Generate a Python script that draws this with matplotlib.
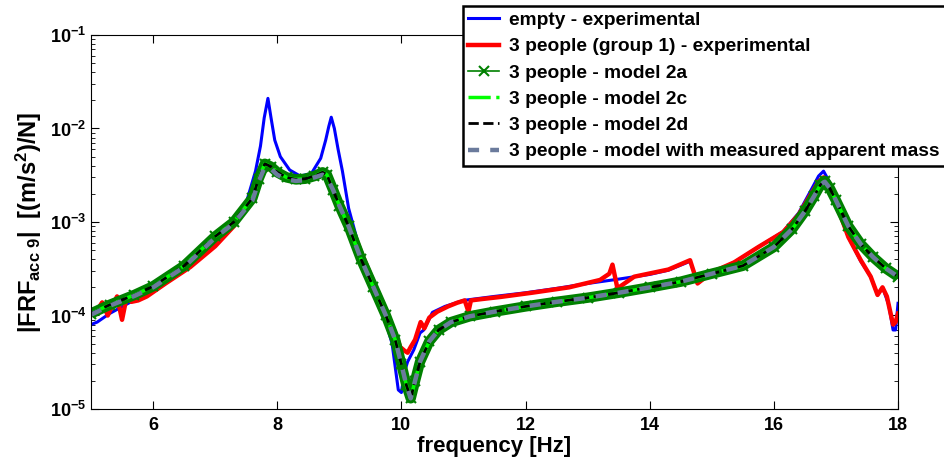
import matplotlib as mpl
mpl.use('Agg')
from matplotlib import pyplot as plt
from matplotlib.ticker import LogLocator, NullFormatter, FixedLocator

plt.rcParams['font.family'] = 'Liberation Sans'
plt.rcParams['font.weight'] = 'bold'
plt.rcParams['mathtext.fontset'] = 'custom'
plt.rcParams['mathtext.rm'] = 'Liberation Sans:bold'
plt.rcParams['mathtext.it'] = 'Liberation Sans:bold'
plt.rcParams['mathtext.bf'] = 'Liberation Sans:bold'
plt.rcParams['mathtext.default'] = 'rm'

# empty footbridge - experimental
empty_f = [5.0, 5.1, 5.3, 5.6, 6.0, 6.5, 7.0, 7.3, 7.5, 7.65, 7.73, 7.79, 7.85, 7.9, 7.96,
           8.05, 8.2, 8.37, 8.55, 8.7, 8.78, 8.83, 8.87, 8.92, 8.98, 9.05, 9.15, 9.3, 9.5,
           9.7, 9.85, 9.95, 10.0, 10.05, 10.1, 10.2, 10.3, 10.36, 10.5, 10.7, 11.0, 11.5,
           12.0, 12.5, 13.0, 13.5, 14.0, 14.3, 14.65, 14.77, 15.0, 15.36, 15.75, 16.15, 16.4,
           16.6, 16.72, 16.8, 16.88, 17.0, 17.2, 17.4, 17.56, 17.67, 17.75, 17.85, 17.92,
           17.96, 18.0]
empty_frf = [8.0e-5, 8.5e-5, 1.05e-4, 1.35e-4, 1.85e-4, 3.0e-4, 5.8e-4, 9.5e-4, 1.6e-3,
             3.5e-3, 6.5e-3, 1.3e-2, 2.1e-2, 1.3e-2, 7.5e-3, 5.0e-3, 3.6e-3, 3.1e-3, 3.3e-3,
             4.8e-3, 7.5e-3, 1.05e-2, 1.32e-2, 1.0e-2, 6.0e-3, 3.5e-3, 1.4e-3, 6.0e-4, 2.4e-4,
             1.1e-4, 5.0e-5, 1.6e-5, 1.5e-5, 2.5e-5, 3.2e-5, 4.3e-5, 6.5e-5, 7.0e-5, 1.08e-4,
             1.25e-4, 1.45e-4, 1.6e-4, 1.75e-4, 1.95e-4, 2.2e-4, 2.45e-4, 2.75e-4, 3.05e-4,
             3.8e-4, 2.3e-4, 2.9e-4, 3.7e-4, 5.4e-4, 7.9e-4, 1.25e-3, 2.2e-3, 3.1e-3, 3.5e-3,
             2.8e-3, 1.6e-3, 6.9e-4, 3.8e-4, 2.6e-4, 1.66e-4, 2.0e-4, 1.3e-4, 7.0e-5, 7.0e-5,
             1.35e-4]

# 3 people (group 1) - experimental
group_f = [5.0, 5.05, 5.12, 5.18, 5.27, 5.35, 5.42, 5.5, 5.58, 5.65, 5.76, 5.9, 6.2, 6.6,
           7.0, 7.3, 7.5, 7.65, 7.75, 7.82, 7.9, 8.0, 8.15, 8.3, 8.45, 8.6, 8.72, 8.8, 8.9,
           9.0, 9.15, 9.35, 9.55, 9.75, 9.9, 9.98, 10.05, 10.1, 10.15, 10.22, 10.31, 10.37,
           10.45, 10.58, 10.75, 10.9, 11.02, 11.08, 11.12, 11.3, 11.6, 12.1, 12.7, 13.2,
           13.35, 13.4, 13.48, 13.75, 14.3, 14.65, 14.77, 15.0, 15.36, 15.75, 16.15, 16.4,
           16.6, 16.72, 16.8, 16.9, 17.0, 17.2, 17.4, 17.56, 17.67, 17.75, 17.82, 17.92,
           17.96, 18.0]
group_frf = [1.15e-4, 1.0e-4, 1.2e-4, 1.38e-4, 1.0e-4, 1.3e-4, 1.6e-4, 9.0e-5, 1.65e-4,
             1.4e-4, 1.45e-4, 1.6e-4, 2.2e-4, 3.3e-4, 5.5e-4, 9.0e-4, 1.45e-3, 2.5e-3, 3.5e-3,
             3.8e-3, 3.6e-3, 3.2e-3, 2.9e-3, 2.75e-3, 2.8e-3, 3.0e-3, 3.2e-3, 3.1e-3, 2.4e-3,
             1.7e-3, 1.05e-3, 4.8e-4, 2.3e-4, 1.15e-4, 6.5e-5, 4.6e-5, 4.2e-5, 4.0e-5, 4.6e-5,
             5.5e-5, 8.5e-5, 7.3e-5, 9.5e-5, 1.1e-4, 1.25e-4, 1.37e-4, 1.45e-4, 1.1e-4, 1.45e-4,
             1.5e-4, 1.58e-4, 1.75e-4, 2.0e-4, 2.4e-4, 2.8e-4, 3.5e-4, 1.95e-4, 2.6e-4, 3.1e-4,
             3.9e-4, 2.2e-4, 2.9e-4, 3.7e-4, 5.4e-4, 7.8e-4, 1.2e-3, 2.0e-3, 2.7e-3, 3.0e-3,
             2.5e-3, 1.6e-3, 6.9e-4, 3.9e-4, 2.6e-4, 1.66e-4, 2.0e-4, 1.6e-4, 8.0e-5, 8.5e-5,
             1.05e-4]

# models
model_f = [5.0, 5.3, 5.7, 6.0, 6.5, 7.0, 7.3, 7.6, 7.7, 7.8, 7.9, 8.0, 8.15, 8.3, 8.45,
           8.6, 8.73, 8.8, 8.9, 9.0, 9.15, 9.35, 9.55, 9.75, 9.9, 10.0, 10.08, 10.15, 10.22,
           10.3, 10.45, 10.6, 10.8, 11.1, 11.5, 12.0, 12.5, 13.0, 13.5, 14.0, 14.5, 15.0,
           15.5, 16.0, 16.3, 16.5, 16.65, 16.75, 16.82, 16.9, 17.0, 17.2, 17.4, 17.6, 17.8, 18.0]
model_2a = [1.05e-4, 1.3e-4, 1.66e-4, 2.05e-4, 3.4e-4, 7.0e-4, 1.0e-3, 1.8e-3, 2.9e-3,
            4.2e-3, 3.9e-3, 3.4e-3, 3.0e-3, 2.85e-3, 2.9e-3, 3.1e-3, 3.4e-3, 3.2e-3, 2.2e-3,
            1.5e-3, 9.0e-4, 4.0e-4, 2.0e-4, 1.0e-4, 5.5e-5, 3.0e-5, 1.8e-5, 1.3e-5, 2.0e-5,
            3.2e-5, 5.3e-5, 7.0e-5, 8.5e-5, 9.8e-5, 1.1e-4, 1.25e-4, 1.4e-4, 1.55e-4, 1.75e-4,
            2.0e-4, 2.3e-4, 2.8e-4, 3.4e-4, 5.4e-4, 8.5e-4, 1.3e-3, 1.9e-3, 2.5e-3, 2.75e-3,
            2.3e-3, 1.7e-3, 9.0e-4, 5.8e-4, 4.2e-4, 3.2e-4, 2.6e-4]
model_2c = model_2a
model_2d = model_2a
model_app = [1.02e-4, 1.27e-4, 1.62e-4, 2.0e-4, 3.3e-4, 6.8e-4, 9.7e-4, 1.7e-3, 2.7e-3,
             3.9e-3, 3.7e-3, 3.2e-3, 2.85e-3, 2.75e-3, 2.8e-3, 3.0e-3, 3.2e-3, 3.0e-3, 2.2e-3,
             1.5e-3, 9.0e-4, 4.0e-4, 2.0e-4, 1.0e-4, 5.5e-5, 3.0e-5, 1.8e-5, 1.3e-5, 2.0e-5,
             3.2e-5, 5.3e-5, 7.0e-5, 8.5e-5, 9.8e-5, 1.1e-4, 1.25e-4, 1.4e-4, 1.55e-4, 1.75e-4,
             2.0e-4, 2.3e-4, 2.8e-4, 3.4e-4, 5.4e-4, 8.5e-4, 1.3e-3, 1.9e-3, 2.5e-3, 2.7e-3,
             2.3e-3, 1.7e-3, 9.0e-4, 5.8e-4, 4.2e-4, 3.2e-4, 2.6e-4]

fig = plt.figure(figsize=(9.45, 4.61), dpi=100)
ax = fig.add_axes([0.0963, 0.1128, 0.8540, 0.8113])

ax.semilogy(empty_f, empty_frf, color='#0000ff', lw=2.2, label='empty - experimental')
ax.semilogy(group_f, group_frf, color='#ff0000', lw=3.2, label='3 people (group 1) - experimental')
# dense x markers in the original make a thick green band
ax.semilogy(model_f, model_2a, color='#008000', lw=7.5, solid_capstyle='butt')
ax.semilogy(model_f, model_2a, color='#008000', lw=1.2, marker='x', ms=7, mew=1.5,
            label='3 people - model 2a')
ax.semilogy(model_f, model_2c, color='#00ff00', lw=2.5, ls='-.', label='3 people - model 2c')
ax.semilogy(model_f, model_2d, color='black', lw=2, ls='--', label='3 people - model 2d')
ax.semilogy(model_f, model_app, color='#6b7b9c', lw=3.2, ls=(0, (2.5, 2.5)),
            label='3 people - model with measured apparent mass')

ax.set_xlim(5, 18)
ax.set_ylim(1e-5, 1e-1)
ax.xaxis.set_major_locator(FixedLocator([6, 8, 10, 12, 14, 16, 18]))
ax.yaxis.set_minor_locator(LogLocator(base=10, subs=range(2, 10)))
ax.yaxis.set_minor_formatter(NullFormatter())
ax.tick_params(which='both', direction='in', top=True, right=True, labelsize=13)
ax.tick_params(which='major', length=6)
ax.tick_params(which='minor', length=3)
ax.tick_params(axis='x', pad=6)

ax.set_xlabel('frequency [Hz]', fontsize=16, fontweight='bold', labelpad=1)
ax.set_ylabel(r'|FRF$_{\mathrm{acc\ 9}}$|  [(m/s$^2$)/N]', fontsize=17, fontweight='bold',
              labelpad=4)

leg = ax.legend(loc='upper right', bbox_to_anchor=(1.0, 0.987), bbox_transform=fig.transFigure,
                fontsize=13.8, frameon=True, fancybox=False, framealpha=1, edgecolor='black',
                borderaxespad=0, handlelength=1.6, handletextpad=0.5, labelspacing=0.46,
                borderpad=0.3)
leg.get_frame().set_linewidth(1.8)

fig.savefig('out.png', dpi=100)
